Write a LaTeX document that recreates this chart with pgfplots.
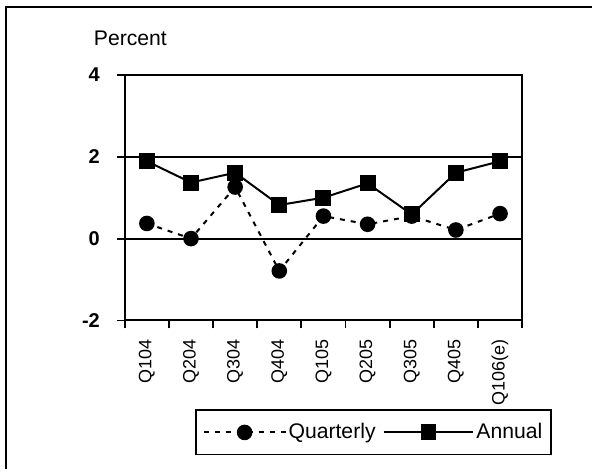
\documentclass[border=0pt]{standalone}
\usepackage{fontspec}
\setmainfont{Liberation Sans}
\usepackage{pgfplots}
\pgfplotsset{compat=1.18}

% legend samples: a line with the mark at its middle
\pgfplotsset{
  qleg/.style={legend image code/.code={%
    \draw[mark repeat=2, mark phase=2, ##1] plot coordinates {(0pt,0pt) (20.5pt,0pt) (41pt,0pt)};}},
  aleg/.style={legend image code/.code={%
    \draw[mark repeat=2, mark phase=2, ##1] plot coordinates {(0pt,0pt) (22.5pt,0pt) (45pt,0pt)};}},
}

\begin{document}
\begin{tikzpicture}
\begin{axis}[
  scale only axis,
  width=199pt, height=123pt,
  xmin=0.5, xmax=9.5,
  ymin=-2, ymax=4,
  axis line style={line width=1pt},
  /pgf/number format/assume math mode=true,
  ytick={-2,0,2,4},
  yticklabels={-2,0,2,4},
  yticklabel style={font=\bfseries\fontsize{10}{11}\selectfont, xshift=-5pt},
  ytick pos=left,
  xtick={0.5,1.5,...,9.5},
  xticklabels={},
  xtick pos=bottom,
  tick align=outside,
  major tick length=4pt,
  every tick/.style={black, line width=0.9pt},
  xticklabel style={rotate=90, anchor=east, xshift=-6pt,
    font=\fontsize{9}{10}\selectfont},
  extra x ticks={1,...,9},
  extra x tick labels={Q104,Q204,Q304,Q404,Q105,Q205,Q305,Q405,Q106(e)},
  extra x tick style={major tick length=0pt, grid=none},
  ymajorgrids,
  grid style={black, line width=0.9pt},
  clip=false,
  legend columns=2,
  legend style={at={(0.626,-0.456)}, anchor=center,
    draw=black, line width=0.9pt,
    font=\fontsize{10.6}{12.5}\selectfont,
    inner xsep=3.5pt, inner ysep=5pt,
    column sep=0pt,
    /tikz/column 2/.style={column sep=2.5pt},
    nodes={inner xsep=1pt, inner ysep=1.5pt}},
]
\addplot[black, line width=1pt, dash pattern=on 2.5pt off 3pt,
  mark=*, mark size=3.4pt, mark options={solid}, qleg]
  coordinates {(1,0.37) (2,0.00) (3,1.26) (4,-0.79) (5,0.55) (6,0.35) (7,0.55) (8,0.21) (9,0.61)};
\addlegendentry{Quarterly}
\addplot[black, line width=1pt,
  mark=square*, mark size=3.5pt, aleg]
  coordinates {(1,1.89) (2,1.37) (3,1.61) (4,0.82) (5,1.00) (6,1.35) (7,0.59) (8,1.61) (9,1.89)};
\addlegendentry{Annual}
\node[anchor=base west, font=\fontsize{10.6}{12.5}\selectfont]
  at (rel axis cs:0,1) [xshift=-19pt, yshift=14.5pt] {Percent};
\end{axis}
% outer frame (left and top edges)
\draw[line width=1pt] (-59.25pt,-74.5pt) -- (-59.25pt,157pt) -- (234pt,157pt);
\useasboundingbox (-62.5pt,-74.5pt) rectangle (234pt,160.5pt);
\end{tikzpicture}
\end{document}
